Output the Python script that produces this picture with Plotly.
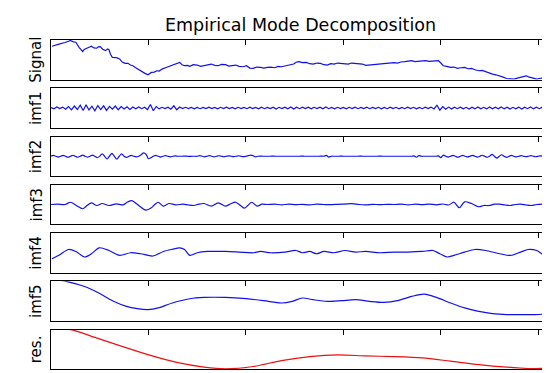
import numpy as np
import plotly.graph_objects as go

# ---------------- data ----------------
N_SAMPLES = 1022
x_ticks = [200, 400, 600, 800, 1000]
labels = ["Signal", "imf1", "imf2", "imf3", "imf4", "imf5", "res."]

signal_x = [2, 10, 18, 29, 40, 46, 51, 58, 65, 68, 72, 78, 83, 88, 94, 97, 101, 106, 112, 116,
            119, 122, 126, 134, 141, 146, 152, 158, 163, 168, 173, 179, 184, 192, 199, 203, 206, 212, 217, 222,
            228, 235, 242, 249, 256, 260, 264, 269, 274, 280, 285, 292, 300, 307, 314, 321, 329, 336, 343, 350,
            358, 365, 372, 379, 386, 394, 401, 408, 415, 422, 430, 437, 444, 451, 459, 466, 473, 480, 488, 493,
            498, 504, 509, 516, 524, 531, 538, 546, 553, 560, 567, 574, 581, 588, 596, 603, 610, 617, 625, 632,
            639, 646, 654, 661, 668, 675, 683, 690, 697, 704, 711, 718, 726, 733, 740, 747, 755, 762, 769, 776,
            784, 790, 795, 800, 805, 812, 820, 827, 834, 841, 849, 856, 863, 870, 878, 885, 892, 899, 906, 913,
            921, 928, 935, 942, 950, 957, 964, 970, 975, 980, 986, 991, 997, 1002, 1008, 1015, 1022]
signal_y = [100, 104, 107, 111, 117, 113, 112, 96, 84, 90, 92, 97, 100, 95, 94, 98, 99, 91, 87, 92,
            90, 76, 67, 66, 62, 53, 49, 49, 44, 42, 37, 31, 27, 20, 15, 20, 22, 23, 27, 26,
            32, 36, 40, 43, 47, 50, 52, 45, 42, 43, 40, 45, 44, 40, 42, 46, 47, 43, 42, 46,
            45, 41, 42, 44, 40, 39, 42, 35, 34, 38, 37, 35, 37, 38, 36, 40, 39, 41, 42, 45,
            47, 53, 54, 51, 52, 48, 47, 50, 49, 45, 44, 48, 47, 50, 49, 46, 47, 50, 49, 46,
            47, 43, 44, 46, 45, 48, 47, 49, 49, 51, 50, 53, 54, 56, 57, 54, 55, 58, 57, 55,
            56, 58, 57, 50, 42, 40, 37, 38, 34, 36, 37, 33, 34, 30, 27, 28, 24, 22, 17, 15,
            12, 8, 4, 3, 2, 5, 7, 10, 12, 9, 7, 5, 2, 4, 5, 3, 5]

imf1_y = [0.5, -0.8, 1, -0.6, 0.9, -1.2, 1.5, -1.8, 2, -1.5,
          2.8, -2.5, 3.2, -2, 1.8, -2.8, 2.5, -1.6, 2.2, -2.4,
          1.6, -1.2, 2, -1.8, 1.4, -1, 1.2, -1.5, 1, -0.8,
          1, -0.7, 0.8, -1.6, 3.5, -2.8, 1.5, -0.9, 0.7, -0.6,
          0.8, -1.2, 2.2, -1.8, 1, -0.6, 0.7, -0.5, 0.6, -0.8,
          0.5, -0.7, 0.6, -0.5, 0.9, -0.6, 0.5, -0.8, 0.7, -0.6,
          0.8, -0.5, 0.6, -0.9, 0.7, -0.6, 0.5, -0.7, 0.8, -0.6,
          0.6, -0.8, 0.9, -0.7, 0.6, -0.5, 0.8, -1, 0.7, -0.6,
          0.9, -0.8, 1, -1.1, 0.8, -0.7, 0.9, -0.6, 0.8, -0.9,
          0.7, -0.6, 0.9, -0.8, 1, -0.7, 0.6, -0.8, 0.7, -0.5,
          0.6, -0.8, 0.7, -0.6, 0.9, -0.7, 0.5, -0.6, 0.8, -0.7,
          0.6, -0.5, 0.7, -0.8, 0.6, -0.7, 0.9, -0.6, 0.7, -0.8,
          0.6, -0.7, 0.8, -0.6, 0.7, -0.9, 0.6, -0.7, 0.8, -0.6,
          0.9, -1, 2.8, -2.2, 1.5, -1.2, 0.9, -1.1, 0.8, -0.7,
          0.9, -0.8, 0.7, -1, 0.8, -0.9, 1.1, -0.8, 0.7, -0.9,
          1, -0.8, 0.9, -0.7, 1.1, -0.9, 0.8, -1, 0.7, -0.8,
          0.9, -1, 0.8, -0.7, 1, -0.9, 0.8, -0.7, 0.9, -0.8,
          0.6]
imf1_step = 6

imf2_y = [0, 0.8, 0, -0.8, 0, 0.9, 0, -1, 0, 1, 0, -1, 0, 1.1, 0, -1, 0, 1.2, 0, -1.5,
          0, 2.5, 0, -2.8, 0, 3, 0, -3, 0, 2.5, 0, -1.2, 0, 0.8, 0, -0.6, 0, 1.5, 3.5, 2,
          -2.5, -1.5, 0, 0.8, 0, -0.8, 0, 0.7, 0, -0.6, 0, 0.3, 0, 0, 0, 0.2, 0, -0.2, 0, 0,
          0, 0.6, 0, -0.6, 0, 0.7, 0, -0.7, 0, 0.5, 0, -0.5, 0, 0.4, 0, -0.3, 0, 0.5, 0, -0.4,
          0, 0.6, 1.2, 0.5, -0.6, 0, 0.2, 0, 0, 0, 0, 0.1, 0, 0, 0, 0, 0, 0, 0, 0,
          0, 0, 0, 0.1, 0, 0, 0, 0, 0, 0, 0, 0.1, 0, 0.8, -0.8, 0, 0, 0, 0, 0.1,
          0, 0, 0, 0, 0, 0, 0, 0.1, 0, 0, 0, 0, 0, 0, 0, 0.1, 0, 0, 0, 0,
          0, 0, 0, 0, 0, 0, 0, 0, 0, 0.3, -1, 0.7, 0, 0, 0, 0, 0, 0, 0, 0.4,
          -1.5, 1.2, 0, -0.8, 0, 0.9, 0, -1, 0, 0.8, 0, -0.7, 0, 0.9, 0, -0.8, 0, 1, 0, -1,
          0, 1.8, 0, -2, 0, 1.5, 0, -1.2, 0, 0.8, 0, -0.7, 0, 0.6, 0, -0.5, 0, 0.6, 0, -0.5,
          0, 0.4, 0, -0.3, 0]
imf2_step = 5

imf3_x = [0, 14, 29, 40, 52, 65, 74, 83, 94, 105, 119, 134, 148, 157, 166, 175, 184, 195, 206, 213,
          220, 231, 242, 256, 271, 282, 293, 303, 314, 329, 343, 358, 368, 379, 390, 397, 404, 412, 423, 433,
          444, 459, 473, 488, 502, 516, 531, 545, 560, 574, 589, 603, 618, 632, 646, 661, 675, 690, 704, 719,
          733, 748, 762, 776, 791, 805, 816, 827, 838, 849, 863, 878, 888, 899, 910, 921, 932, 942, 953, 964,
          975, 986, 997, 1008, 1015, 1022]
imf3_y = [0, 0.3, 0, 2.3, -1, -4.3, -1, 1.7, -1, 1, -1, 0.7, -0.3, 2.5, 4, 1, -2.5, -5.7, -3.3, 0,
          2.3, -1.7, 1, -0.3, 0.3, -0.5, -1, 0.3, 1, -1.7, 1.7, -1.7, 0.5, 2.3, -1.5, -3.7, -1, 2.3, -1.7, 0.3,
          0, 0.3, -0.3, 0.3, -0.2, 0.2, -0.3, 0.3, 0, -0.2, 0.2, 0.4, 0.8, 0, -0.3, 0.2, -0.2, 0.2, 0, 0.3,
          -0.3, 0.3, -0.2, 0.4, -0.3, 0.5, -0.5, 2.3, -3.3, 2.7, 1, -2.3, -1, -1, 0.3, 0.3, -0.5, -1, 0, 0.3,
          -0.5, -1, 0, 0.3, 1.5, 2.3]

imf4_x = [2, 18, 36, 51, 69, 83, 99, 119, 141, 163, 184, 209, 231, 249, 264, 274, 285, 300, 321, 358,
          386, 415, 430, 451, 480, 502, 516, 531, 545, 560, 581, 603, 625, 646, 675, 704, 733, 762, 784, 798,
          813, 827, 849, 870, 892, 921, 943, 964, 979, 997, 1011, 1022]
imf4_y = [-6, -2, 3.3, 1.3, -4.3, -1, 5, 2.3, -2.7, 0, -1, -3.3, 1.3, 3.5, 5, 3.3, -2.7, 0, 1.3, 1.3,
          0.7, 0, 1.3, 0, 0.7, 2.3, 0, 1.3, -1, 1.3, 0, 2.3, 0.7, 1.3, 0, 0.7, 0.7, 1.3, 2.3, -1,
          -4.3, -2.7, 0.7, 3.3, 2.3, -1, -2.7, 0.7, 3.3, 2.3, -2, -2]

imf5_x = [0, 33, 69, 98, 126, 155, 177, 199, 220, 249, 285, 314, 358, 401, 437, 473, 495, 516, 538, 567,
          596, 625, 654, 683, 711, 740, 766, 791, 820, 849, 878, 906, 935, 964, 993, 1015, 1022]
imf5_y = [42, 39.3, 34.3, 27.7, 20, 14.3, 12, 11, 12.7, 17.7, 22, 23.3, 23.3, 22, 20, 17.7, 19.3, 22.7, 21, 19.3,
          20, 21, 19.3, 18.3, 20, 24.3, 26.7, 23.3, 17.7, 12.7, 9.3, 7, 6, 6, 6, 6.7, 7.7]

res_x = [0, 43, 90, 141, 199, 256, 314, 358, 415, 473, 531, 589, 646, 704, 762, 820, 878, 935, 979, 1022]
res_y = [42, 39.3, 31.7, 23.3, 14.3, 6.7, 1.7, 0, 2.3, 8.3, 12.3, 14, 13, 12.3, 11, 7.7, 4.3, 1.7, 0.3, 0.7]

# ---------------- figure ----------------
imf1_x = np.arange(len(imf1_y)) * imf1_step
imf2_x = np.arange(len(imf2_y)) * imf2_step

series = [
    (signal_x, signal_y, "#1010ee", "linear", [1, 118.5], 10),
    (imf1_x, imf1_y, "#1010ee", "linear", [-20, 20], 5),
    (imf2_x, imf2_y, "#1010ee", "spline", [-20, 20], 5),
    (imf3_x, imf3_y, "#1010ee", "spline", [-20, 20], 5),
    (imf4_x, imf4_y, "#1010ee", "spline", [-20, 20], 5),
    (imf5_x, imf5_y, "#1010ee", "spline", [-0.2, 39.6], 5),
    (res_x, res_y, "#ee1010", "spline", [-0.2, 39.6], 5),
]

W, H = 550, 373
top_px, bot_px = 32, 361
panel_h, gap = 39.5, 8.75
plot_h = bot_px - top_px

fig = go.Figure()
layout = dict(
    width=W, height=H,
    margin=dict(l=43, r=9, t=top_px, b=H - bot_px, pad=0),
    paper_bgcolor="white", plot_bgcolor="white",
    showlegend=False,
    font=dict(family="DejaVu Sans", color="black"),
)
annotations = []
for i, (xs, ys, col, shape, yr, dt) in enumerate(series):
    n = "" if i == 0 else str(i + 1)
    t = top_px + i * (panel_h + gap)
    b = t + panel_h
    dom = [(bot_px - b) / plot_h, (bot_px - t) / plot_h]
    fig.add_trace(go.Scatter(x=xs, y=ys, mode="lines",
                             line=dict(color=col, width=1.2, shape=shape, smoothing=0.8),
                             xaxis="x" + n, yaxis="y" + n, hoverinfo="skip"))
    layout["xaxis" + n] = dict(
        domain=[0, 1], anchor="y" + n, range=[0, N_SAMPLES], side="top",
        showgrid=False, zeroline=False, showline=True, mirror=True,
        linecolor="black", linewidth=1, ticks="inside", ticklen=5,
        tickcolor="black", tickvals=x_ticks, showticklabels=False,
    )
    layout["yaxis" + n] = dict(
        domain=dom, anchor="x" + n, range=yr, side="right",
        showgrid=False, zeroline=False, showline=True, mirror=True,
        linecolor="black", linewidth=1, ticks="inside", ticklen=3,
        tickcolor="black", dtick=dt, showticklabels=False,
    )
    annotations.append(dict(
        text=labels[i], xref="paper", yref="paper", x=0, y=(dom[0] + dom[1]) / 2,
        xanchor="center", yanchor="middle", xshift=-15, textangle=-90,
        showarrow=False, font=dict(size=15, family="DejaVu Sans", color="black"),
    ))

annotations.append(dict(
    text="Empirical Mode Decomposition", xref="paper", yref="paper",
    x=0.5, y=1, yshift=15, xanchor="center", yanchor="middle", showarrow=False,
    font=dict(size=17.5, family="DejaVu Sans", color="black"),
))
layout["annotations"] = annotations
fig.update_layout(**layout)
fig.write_html("out.html")
